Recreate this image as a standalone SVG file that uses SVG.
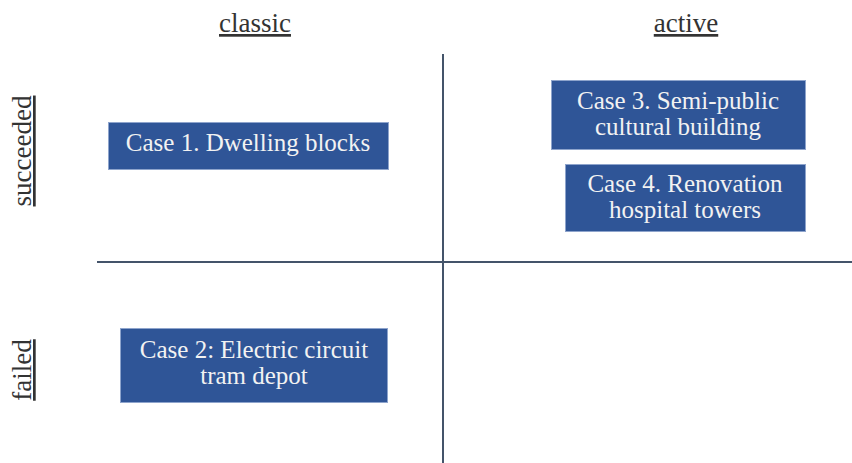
<svg xmlns="http://www.w3.org/2000/svg" width="852" height="463" viewBox="0 0 852 463">
<style>
.box{fill:#2F5597;stroke:#8EA4CC;stroke-width:1}
.bt{font-family:"Liberation Serif",serif;font-size:25px;fill:#F2F2F2;text-anchor:middle}
.ax{font-family:"Liberation Serif",serif;font-size:27px;fill:#333333;text-anchor:middle;text-decoration:underline}
.ln{stroke:#44546A;stroke-width:2;fill:none}
</style>
<rect width="852" height="463" fill="#FFFFFF"/>
<g id="connectors">
<line class="ln" x1="443" y1="54" x2="443" y2="463"/>
<line class="ln" x1="97" y1="262" x2="852" y2="262"/>
</g>
<g id="label-classic"><text class="ax" x="255" y="32">classic</text></g>
<g id="label-active"><text class="ax" x="686" y="32">active</text></g>
<g id="label-succeeded"><text class="ax" transform="translate(31,151) rotate(-90)">succeeded</text></g>
<g id="label-failed"><text class="ax" transform="translate(31,370) rotate(-90)">failed</text></g>
<g id="case1">
<rect class="box" x="108.5" y="122.5" width="280" height="47"/>
<text class="bt" x="248" y="151">Case 1. Dwelling blocks</text>
</g>
<g id="case3">
<rect class="box" x="551.5" y="80.5" width="254" height="69"/>
<text class="bt" x="678" y="109">Case 3. Semi-public</text>
<text class="bt" x="678" y="135">cultural building</text>
</g>
<g id="case4">
<rect class="box" x="565.5" y="164.5" width="240" height="67"/>
<text class="bt" x="685" y="192">Case 4. Renovation</text>
<text class="bt" x="685" y="218">hospital towers</text>
</g>
<g id="case2">
<rect class="box" x="120.5" y="328.5" width="267" height="74"/>
<text class="bt" x="254" y="358">Case 2: Electric circuit</text>
<text class="bt" x="254" y="384">tram depot</text>
</g>
</svg>
